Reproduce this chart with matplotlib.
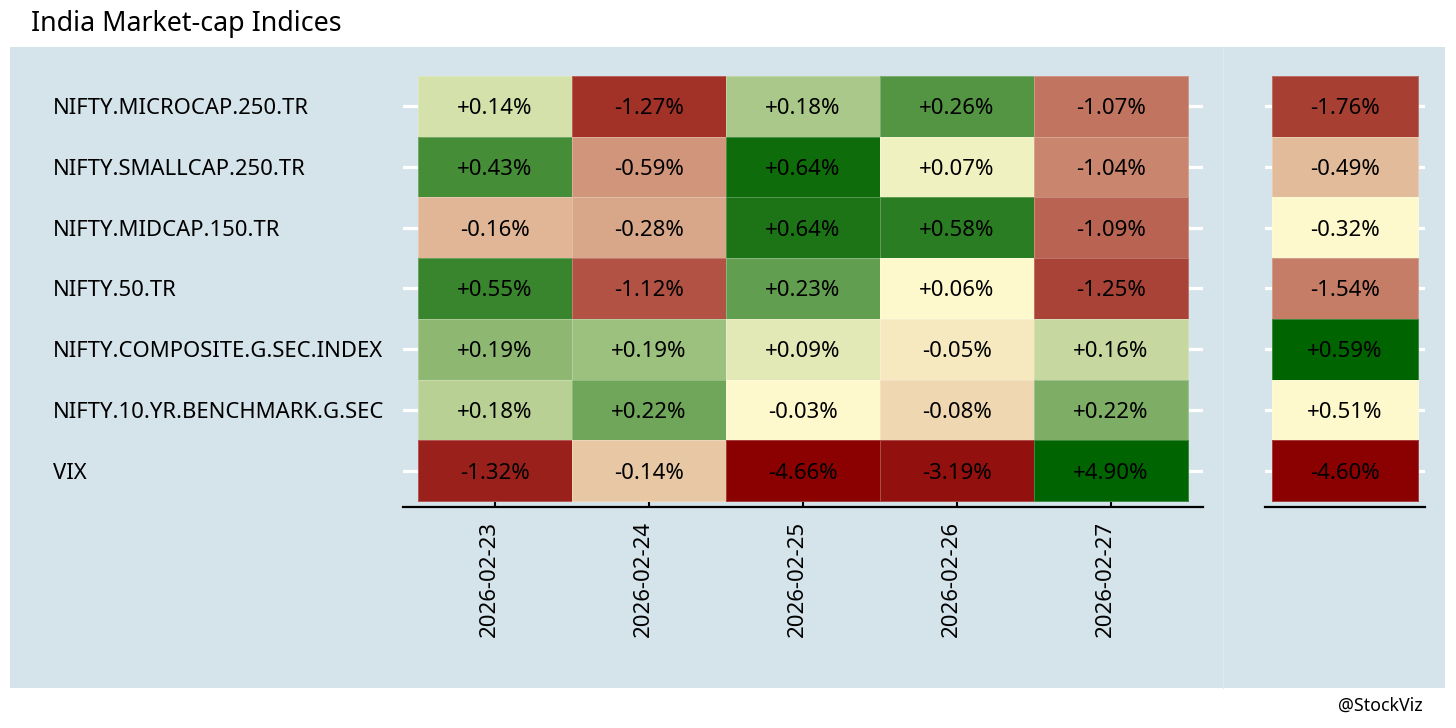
"""India market-cap indices: daily returns heatmap plus weekly column."""

import matplotlib.pyplot as plt
import matplotlib.transforms as mtransforms
import numpy as np
from matplotlib.colors import LinearSegmentedColormap
from matplotlib.patches import Rectangle

plt.rcParams["font.family"] = ["Noto Sans", "DejaVu Sans"]

indices = [
    "NIFTY.MICROCAP.250.TR",
    "NIFTY.SMALLCAP.250.TR",
    "NIFTY.MIDCAP.150.TR",
    "NIFTY.50.TR",
    "NIFTY.COMPOSITE.G.SEC.INDEX",
    "NIFTY.10.YR.BENCHMARK.G.SEC",
    "VIX",
]
dates = ["2026-02-23", "2026-02-24", "2026-02-25", "2026-02-26", "2026-02-27"]

# daily returns, % (rows = indices, cols = dates); third decimal estimated from fill order
daily = np.array([
    [0.14, -1.27, 0.184, 0.26, -1.07],
    [0.43, -0.59, 0.642, 0.07, -1.04],
    [-0.16, -0.28, 0.638, 0.58, -1.09],
    [0.55, -1.12, 0.23, 0.06, -1.25],
    [0.191, 0.189, 0.09, -0.05, 0.16],
    [0.176, 0.222, -0.03, -0.08, 0.218],
    [-1.32, -0.14, -4.66, -3.19, 4.90],
])
weekly = np.array([-1.76, -0.49, -0.32, -1.54, 0.59, 0.51, -4.60])

BG = "#d5e4eb"
W, H = 1456, 728
FS = 16
cmap = LinearSegmentedColormap.from_list("rg", ["darkred", "lemonchiffon", "darkgreen"])


def _rank_scale(v: np.ndarray) -> np.ndarray:
    """Negatives ranked onto [0, .5], positives onto [.5, 1]."""
    flat = v.ravel().astype(float)
    out = np.empty_like(flat)
    for idx, lo in ((np.where(flat < 0)[0], 0.0), (np.where(flat >= 0)[0], 0.5)):
        order = idx[np.argsort(flat[idx], kind="stable")]
        n = len(order)
        out[order] = lo + 0.5 * np.arange(n) / max(n - 1, 1)
    return out.reshape(v.shape)


def _fx(px):
    return px / W


def _fy(px):
    return 1 - px / H


def _draw(ax, values, xlabels, xpad):
    nrow, ncol = values.shape
    scaled = _rank_scale(values)
    ax.pcolormesh(
        np.arange(ncol + 1) + 0.5, np.arange(nrow + 1) + 0.5, scaled,
        cmap=cmap, vmin=0, vmax=1,
        edgecolors=(1, 1, 1, 0.25), linewidth=0.6, zorder=2,
    )
    for i in range(nrow):
        for j in range(ncol):
            ax.text(j + 1, i + 1, f"{values[i, j]:+.2f}%", ha="center", va="center_baseline",
                    fontsize=FS, color="black", zorder=3)
    ax.set_xlim(0.5 - xpad, ncol + 0.5 + xpad)
    ax.set_ylim(nrow + 0.5 + 0.099, 0.5 - 0.099)
    ax.set_facecolor("none")
    for s in ("top", "left", "right"):
        ax.spines[s].set_visible(False)
    ax.spines["bottom"].set_linewidth(1.6)
    ax.set_yticks(np.arange(1, nrow + 1))
    ax.yaxis.grid(True, color="white", linewidth=2.3, zorder=1)
    ax.set_axisbelow(True)
    ax.tick_params(axis="y", length=0)
    if xlabels:
        ax.set_xticks(np.arange(1, ncol + 1))
        ax.set_xticklabels(xlabels, rotation=90, fontsize=FS)
        ax.tick_params(axis="x", direction="in", length=7.5, width=1.5, pad=10)
        shift = mtransforms.ScaledTranslation(-6 / 100, 0, ax.figure.dpi_scale_trans)
        for lab in ax.get_xticklabels():
            lab.set_transform(lab.get_transform() + shift)
    else:
        ax.set_xticks([])


fig = plt.figure(figsize=(W / 100, H / 100), dpi=100)
fig.patch.set_facecolor("white")
fig.patches.append(Rectangle((_fx(10), _fy(688)), _fx(1435), (688 - 47) / H,
                             transform=fig.transFigure, facecolor=BG, edgecolor="none", zorder=-2))
fig.add_artist(plt.Line2D([_fx(1222.5)] * 2, [_fy(688), _fy(47)], transform=fig.transFigure,
                          color="#dbe8ee", linewidth=0.8, zorder=-1))

ax_main = fig.add_axes([_fx(403), _fy(507), _fx(800), 437 / H])
_draw(ax_main, daily, dates, 15 / 154)
ax_main.set_yticklabels(indices, fontsize=15.9, va="center_baseline")
for lab in ax_main.get_yticklabels():
    lab.set_ha("left")
ax_main.tick_params(axis="y", pad=350 * 0.72)

ax_week = fig.add_axes([_fx(1265), _fy(507), _fx(160), 437 / H])
_draw(ax_week, weekly[:, None], None, 7 / 146)
ax_week.set_yticklabels([])

fig.text(_fx(31), _fy(21), "India Market-cap Indices", fontsize=19.3, ha="left", va="center_baseline")
fig.text(_fx(1423), _fy(706), "@StockViz", fontsize=12.8, ha="right", va="center")

fig.savefig("out.png", dpi=100)
